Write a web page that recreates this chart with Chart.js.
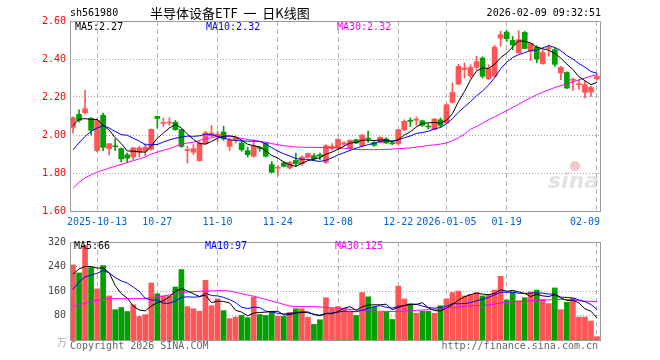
<!DOCTYPE html>
<html>
<head>
<meta charset="utf-8">
<script src="https://cdn.jsdelivr.net/npm/chart.js@4.4.1/dist/chart.umd.min.js"></script>
<style>
html, body { margin: 0; padding: 0; background: #fff; }
#quadro { position: relative; width: 660px; height: 360px; }
#grafico-k { position: absolute; left: 0; top: 0; }
#grafico-vol { position: absolute; left: 0; top: 232px; }
</style>
</head>
<body>
<div id="quadro">
  <canvas id="grafico-k" width="660" height="232"></canvas>
  <canvas id="grafico-vol" width="660" height="128"></canvas>
</div>
<script>
// Dias de pregão (categorias)
const dias = [
  '2025-09-29','2025-09-30','2025-10-09','2025-10-10',
  '2025-10-13','2025-10-14','2025-10-15','2025-10-16','2025-10-17',
  '2025-10-20','2025-10-21','2025-10-22','2025-10-23','2025-10-24',
  '2025-10-27','2025-10-28','2025-10-29','2025-10-30','2025-10-31',
  '2025-11-03','2025-11-04','2025-11-05','2025-11-06','2025-11-07',
  '2025-11-10','2025-11-11','2025-11-12','2025-11-13','2025-11-14',
  '2025-11-17','2025-11-18','2025-11-19','2025-11-20','2025-11-21',
  '2025-11-24','2025-11-25','2025-11-26','2025-11-27','2025-11-28',
  '2025-12-01','2025-12-02','2025-12-03','2025-12-04','2025-12-05',
  '2025-12-08','2025-12-09','2025-12-10','2025-12-11','2025-12-12',
  '2025-12-15','2025-12-16','2025-12-17','2025-12-18','2025-12-19',
  '2025-12-22','2025-12-23','2025-12-24','2025-12-25','2025-12-26',
  '2025-12-29','2025-12-30','2025-12-31',
  '2026-01-05','2026-01-06','2026-01-07','2026-01-08','2026-01-09',
  '2026-01-12','2026-01-13','2026-01-14','2026-01-15','2026-01-16',
  '2026-01-19','2026-01-20','2026-01-21','2026-01-22','2026-01-23',
  '2026-01-26','2026-01-27','2026-01-28','2026-01-29','2026-01-30',
  '2026-02-02','2026-02-03','2026-02-04','2026-02-05','2026-02-06',
  '2026-02-09'
];

// Rótulos do eixo x
const rotulos = {
  '2025-10-13': '2025-10-13', '2025-10-27': '10-27', '2025-11-10': '11-10',
  '2025-11-24': '11-24', '2025-12-08': '12-08', '2025-12-22': '12-22',
  '2026-01-05': '2026-01-05', '2026-01-19': '01-19', '2026-02-09': '02-09    '
};

const precoTicks = [1.6, 1.8, 2.0, 2.2, 2.4, 2.6];
const volTicks = [80, 160, 240, 320];

// Preços (abertura, máxima, mínima, fechamento)
const abertura = [
  2.040,2.109,2.117,2.088,1.918,2.104,1.928,1.942,1.928,1.896,
  1.884,1.909,1.915,1.925,2.098,2.060,2.063,2.067,2.028,1.918,
  1.909,1.865,1.955,1.995,1.995,2.016,1.940,1.975,1.958,1.918,
  1.888,1.935,1.958,1.844,1.825,1.853,1.826,1.867,1.849,1.882,
  1.891,1.896,1.856,1.930,1.932,1.952,1.928,1.975,1.944,1.982,
  1.961,1.961,1.979,1.957,1.954,2.027,2.078,2.078,2.075,2.045,
  2.028,2.080,2.063,2.172,2.268,2.345,2.312,2.356,2.405,2.296,
  2.310,2.510,2.542,2.498,2.432,2.540,2.440,2.462,2.376,2.455,
  2.449,2.326,2.329,2.288,2.265,2.224,2.226,2.295
];
const maxima = [
  2.095,2.133,2.235,2.092,2.085,2.116,1.955,1.979,1.932,1.905,
  1.935,1.940,1.955,2.032,2.100,2.090,2.090,2.077,2.030,1.940,
  1.950,1.967,2.020,2.050,2.020,2.046,1.984,1.995,1.972,1.935,
  1.975,1.940,1.960,1.860,1.839,1.860,1.861,1.905,1.890,1.905,
  1.902,1.905,1.950,1.955,1.980,1.965,1.975,1.978,2.002,2.020,
  1.965,1.990,1.985,1.962,2.030,2.080,2.090,2.095,2.078,2.060,
  2.088,2.090,2.165,2.274,2.372,2.379,2.370,2.414,2.412,2.370,
  2.472,2.546,2.549,2.519,2.549,2.546,2.484,2.470,2.449,2.475,
  2.458,2.361,2.333,2.300,2.291,2.282,2.256,2.320
];
const minima = [
  2.010,2.067,2.110,2.000,1.912,1.918,1.895,1.918,1.858,1.856,
  1.870,1.884,1.890,1.920,2.037,2.045,2.050,2.025,1.935,1.853,
  1.897,1.862,1.950,1.990,1.965,1.972,1.918,1.958,1.914,1.884,
  1.884,1.915,1.884,1.800,1.788,1.832,1.820,1.835,1.840,1.878,
  1.865,1.870,1.849,1.920,1.928,1.945,1.926,1.954,1.937,1.961,
  1.940,1.958,1.955,1.948,1.949,2.022,2.045,2.050,2.045,2.030,
  2.025,2.040,2.060,2.168,2.265,2.300,2.300,2.344,2.300,2.291,
  2.305,2.467,2.493,2.449,2.430,2.454,2.392,2.380,2.372,2.414,
  2.361,2.291,2.244,2.235,2.240,2.195,2.203,2.290
];
const fechamento = [
  2.091,2.077,2.138,2.025,2.078,1.935,1.954,1.938,1.874,1.878,
  1.932,1.932,1.935,2.030,2.087,2.065,2.067,2.028,1.940,1.921,
  1.928,1.958,2.012,2.010,2.005,1.979,1.972,1.985,1.923,1.896,
  1.944,1.930,1.888,1.804,1.830,1.835,1.856,1.849,1.884,1.902,
  1.875,1.888,1.944,1.940,1.977,1.958,1.972,1.958,2.000,1.978,
  1.946,1.988,1.958,1.954,2.028,2.072,2.072,2.082,2.050,2.042,
  2.084,2.050,2.159,2.224,2.361,2.352,2.355,2.386,2.309,2.350,
  2.462,2.528,2.507,2.474,2.502,2.455,2.481,2.400,2.434,2.458,
  2.372,2.356,2.247,2.292,2.269,2.265,2.250,2.308
];

// Médias móveis do preço
const ma5 = [
  2.050,2.083,2.086,2.082,2.082,2.051,2.026,1.986,1.956,1.916,
  1.915,1.911,1.910,1.941,1.983,2.010,2.037,2.055,2.037,2.004,
  1.977,1.955,1.952,1.966,1.983,1.993,1.996,1.990,1.973,1.951,
  1.944,1.936,1.916,1.892,1.879,1.857,1.843,1.835,1.851,1.865,
  1.873,1.880,1.899,1.910,1.925,1.941,1.958,1.961,1.973,1.973,
  1.971,1.974,1.974,1.965,1.975,2.000,2.017,2.042,2.061,2.064,
  2.066,2.062,2.077,2.112,2.176,2.229,2.290,2.336,2.353,2.350,
  2.372,2.407,2.431,2.464,2.495,2.493,2.484,2.462,2.454,2.446,
  2.429,2.404,2.373,2.345,2.307,2.286,2.265,2.277
];
const ma10 = [
  1.923,1.958,1.993,2.019,2.037,2.049,2.037,2.019,2.002,1.999,
  1.983,1.968,1.948,1.949,1.950,1.963,1.974,1.983,1.989,1.994,
  1.993,1.996,2.004,2.002,1.993,1.985,1.975,1.971,1.969,1.967,
  1.968,1.966,1.953,1.933,1.915,1.901,1.889,1.876,1.872,1.872,
  1.865,1.861,1.867,1.880,1.895,1.907,1.919,1.930,1.941,1.949,
  1.956,1.966,1.968,1.969,1.974,1.985,1.995,2.008,2.013,2.019,
  2.033,2.039,2.059,2.086,2.120,2.148,2.176,2.206,2.232,2.263,
  2.301,2.349,2.383,2.408,2.423,2.433,2.445,2.447,2.459,2.470,
  2.461,2.444,2.418,2.400,2.376,2.357,2.334,2.325
];
const ma30 = [
  1.720,1.750,1.775,1.790,1.805,1.815,1.826,1.836,1.845,1.855,
  1.865,1.874,1.884,1.900,1.910,1.920,1.928,1.940,1.952,1.958,
  1.962,1.972,1.980,1.986,1.993,1.995,1.992,1.988,1.982,1.976,
  1.972,1.966,1.962,1.955,1.949,1.944,1.940,1.937,1.936,1.935,
  1.935,1.934,1.934,1.934,1.932,1.930,1.927,1.924,1.923,1.923,
  1.923,1.923,1.924,1.926,1.928,1.930,1.932,1.936,1.940,1.945,
  1.948,1.952,1.958,1.970,1.985,2.005,2.030,2.045,2.062,2.080,
  2.095,2.112,2.128,2.145,2.162,2.180,2.196,2.212,2.225,2.238,
  2.250,2.260,2.270,2.280,2.290,2.300,2.310,2.318
];

// Volume (万) e médias
const volume = [
  245,219,309,237,167,243,144,99,106,93,
  115,77,83,186,151,143,143,173,230,109,
  102,94,195,112,134,96,70,75,80,73,
  140,83,80,91,78,77,90,102,102,74,
  51,66,138,103,109,103,91,80,155,141,
  107,91,91,67,176,134,118,87,94,94,
  87,112,134,155,160,144,149,155,144,149,
  163,208,131,157,128,138,157,163,133,119,
  170,99,123,137,75,75,62,11
];
const volMa5 = [
  215,232,240,240,235,235,220,178,152,137,
  111,98,95,111,122,128,141,159,168,160,
  151,142,146,122,127,126,121,97,91,79,
  88,90,91,93,94,82,83,88,90,89,
  84,79,86,86,93,104,109,97,108,114,
  115,115,117,99,106,112,117,116,122,105,
  96,95,104,116,130,141,148,153,150,148,
  152,164,159,162,157,152,142,149,144,142,
  148,137,129,130,121,102,94,72
];
const volMa10 = [
  165,190,206,212,218,227,219,204,193,186,
  173,159,136,131,130,120,120,127,139,141,
  140,141,153,145,144,139,132,122,107,103,
  107,106,94,92,87,85,87,89,92,92,
  83,81,87,88,91,94,94,92,97,104,
  109,112,107,104,110,113,116,117,111,106,
  104,106,110,119,118,119,122,128,133,139,
  147,156,156,156,153,152,153,154,153,150,
  150,140,139,137,131,125,116,100
];
const volMa30 = [
  110,115,120,126,130,133,135,135,135,135,
  135,135,136,138,141,144,147,151,155,157,
  158,159,160,160,161,161,160,156,151,147,
  143,138,132,127,122,116,111,109,109,109,
  109,108,106,105,104,102,100,98,96,95,
  94,94,93,93,94,95,96,97,98,99,
  100,101,103,106,108,110,111,112,113,115,
  118,121,123,125,126,127,128,129,130,131,
  132,133,132,130,128,127,126,125
];

const VERMELHO = '#ff5555';
const VERDE = '#00a000';
const FONTE = 'DejaVu Sans Mono';

const cores = fechamento.map((c, i) => c >= abertura[i] ? VERMELHO : VERDE);
const corpos = dias.map((d, i) => [abertura[i], fechamento[i]]);
const sombras = dias.map((d, i) => [minima[i], maxima[i]]);

function eixoX(mostrarRotulos, altura) {
  return {
    type: 'category',
    offset: true,
    grid: {
      offset: false,
      drawTicks: false,
      color: c => rotulos[dias[c.index]] ? '#b4b4b4' : 'rgba(0,0,0,0)'
    },
    border: { display: false, dash: [5, 3] },
    ticks: {
      display: mostrarRotulos,
      autoSkip: false,
      maxRotation: 0,
      minRotation: 0,
      padding: 5,
      color: '#0066cc',
      font: { family: FONTE, size: 10 },
      callback: (v, i) => rotulos[dias[i]] || ''
    },
    afterFit: s => { s.height = altura; }
  };
}

function linhaMedia(dados, cor) {
  return {
    type: 'line', data: dados, borderColor: cor, borderWidth: 1,
    pointRadius: 0, tension: 0, order: 0
  };
}

// Moldura do painel
function desenharMoldura(ctx, a) {
  ctx.save();
  ctx.strokeStyle = '#9a9a9a';
  ctx.lineWidth = 1;
  ctx.strokeRect(Math.floor(a.left) + 0.5, Math.floor(a.top) + 0.5,
    Math.round(a.right - a.left), Math.round(a.bottom - a.top));
  ctx.restore();
}

function texto(ctx, t, x, y, cor, fonte, alinhar) {
  ctx.fillStyle = cor;
  ctx.font = fonte;
  ctx.textAlign = alinhar || 'left';
  ctx.textBaseline = 'middle';
  ctx.fillText(t, x, y);
}

const pluginK = {
  id: 'textosK',
  beforeDatasetsDraw(chart) {
    const ctx = chart.ctx;
    ctx.save();
    // marca d'água
    ctx.globalAlpha = 0.35;
    ctx.fillStyle = '#e06060';
    ctx.beginPath(); ctx.arc(575, 166, 5, 0, Math.PI * 2); ctx.fill();
    texto(ctx, 'sina', 548, 182, '#b0b0b0', 'italic bold 22px "DejaVu Sans"');
    ctx.restore();
  },
  afterDraw(chart) {
    const ctx = chart.ctx;
    desenharMoldura(ctx, chart.chartArea);
    ctx.save();
    const mono = '10px "' + FONTE + '"';
    texto(ctx, 'sh561980', 70, 13, '#000', mono);
    texto(ctx, '半导体设备ETF  一  日K线图', 150, 13, '#000', '13px "Noto Sans CJK SC"');
    texto(ctx, '2026-02-09 09:32:51', 601, 13, '#000', mono, 'right');
    texto(ctx, 'MA5:2.27', 75, 27, '#000', mono);
    texto(ctx, 'MA10:2.32', 206, 27, '#0000ff', mono);
    texto(ctx, 'MA30:2.32', 337, 27, '#ff00ff', mono);
    ctx.restore();
  }
};

const pluginVol = {
  id: 'textosVol',
  afterDraw(chart) {
    const ctx = chart.ctx;
    desenharMoldura(ctx, chart.chartArea);
    ctx.save();
    const mono = '10px "' + FONTE + '"';
    texto(ctx, 'MA5:66', 74, 14, '#000', mono);
    texto(ctx, 'MA10:97', 205, 14, '#0000ff', mono);
    texto(ctx, 'MA30:125', 335, 14, '#ff00ff', mono);
    texto(ctx, '万', 57, 110, '#b0b0b0', '10px "Noto Sans CJK SC"');
    texto(ctx, 'Copyright 2026 SINA.COM', 70, 114, '#666', mono);
    texto(ctx, 'http://finance.sina.com.cn', 598, 114, '#666', mono, 'right');
    ctx.restore();
  }
};

// Gráfico de velas
new Chart(document.getElementById('grafico-k').getContext('2d'), {
  type: 'bar',
  data: {
    labels: dias,
    datasets: [
      linhaMedia(ma5, '#000000'),
      linhaMedia(ma10, '#0000ff'),
      linhaMedia(ma30, '#ff00ff'),
      { data: corpos, backgroundColor: cores, barThickness: 5, grouped: false, minBarLength: 1, order: 1 },
      { data: sombras, backgroundColor: cores, barThickness: 1, grouped: false, order: 2 }
    ]
  },
  options: {
    responsive: false,
    animation: false,
    devicePixelRatio: 1,
    layout: { padding: { top: 21, right: 60, left: 0, bottom: 0 } },
    plugins: { legend: { display: false }, tooltip: { enabled: false } },
    scales: {
      x: eixoX(true, 21),
      y: {
        min: 1.6, max: 2.6,
        afterBuildTicks: s => { s.ticks = precoTicks.map(v => ({ value: v })); },
        grid: { drawTicks: false, color: '#a8a8a8' },
        border: { display: false, dash: [1, 2] },
        ticks: {
          padding: 4, color: '#ff0000',
          font: { family: FONTE, size: 10 },
          callback: v => Number(v).toFixed(2)
        },
        afterFit: s => { s.width = 70; }
      }
    }
  },
  plugins: [pluginK]
});

// Gráfico de volume
new Chart(document.getElementById('grafico-vol').getContext('2d'), {
  type: 'bar',
  data: {
    labels: dias,
    datasets: [
      linhaMedia(volMa5, '#000000'),
      linhaMedia(volMa10, '#0000ff'),
      linhaMedia(volMa30, '#ff00ff'),
      { data: volume, backgroundColor: cores, barThickness: 5, grouped: false, order: 1 }
    ]
  },
  options: {
    responsive: false,
    animation: false,
    devicePixelRatio: 1,
    layout: { padding: { top: 8, right: 60, left: 0, bottom: 0 } },
    plugins: { legend: { display: false }, tooltip: { enabled: false } },
    scales: {
      x: eixoX(false, 20),
      y: {
        min: 0, max: 320,
        afterBuildTicks: s => { s.ticks = volTicks.map(v => ({ value: v })); },
        grid: { drawTicks: false, color: '#a8a8a8' },
        border: { display: false, dash: [1, 2] },
        ticks: {
          padding: 4, color: '#444',
          font: { family: FONTE, size: 10 },
          callback: v => String(v)
        },
        afterFit: s => { s.width = 70; }
      }
    }
  },
  plugins: [pluginVol]
});
</script>
</body>
</html>
